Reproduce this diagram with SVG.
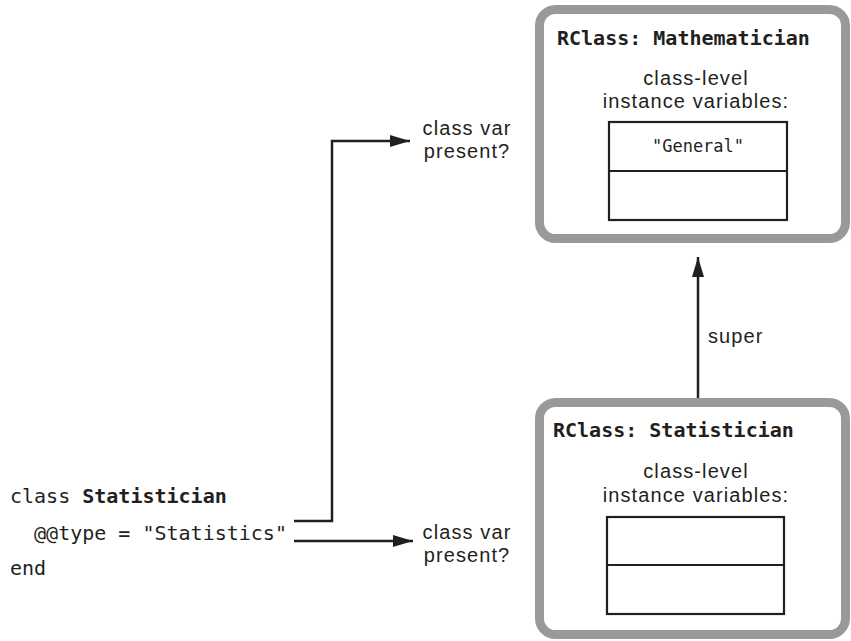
<svg xmlns="http://www.w3.org/2000/svg" width="851" height="641" viewBox="0 0 851 641">
<defs>
<style>
.box{fill:#fff;stroke:#999;stroke-width:9}
.tbl{fill:none;stroke:#231f20;stroke-width:2.2}
.title{font-family:"DejaVu Sans Mono","Liberation Mono",monospace;font-weight:bold;font-size:20px;fill:#231f20}
.mono{font-family:"DejaVu Sans Mono","Liberation Mono",monospace;font-size:20px;fill:#231f20}
.val{font-family:"DejaVu Sans Mono","Liberation Mono",monospace;font-size:17px;fill:#231f20}
.sans{font-family:"Liberation Sans","Open Sans",sans-serif;font-size:20px;letter-spacing:1.1px;fill:#231f20}
.line{fill:none;stroke:#231f20;stroke-width:2.5}
</style>
<marker id="arr" markerWidth="20" markerHeight="12" refX="20" refY="6" orient="auto" markerUnits="userSpaceOnUse">
<path d="M0,0 L20,6 L0,12 Z" fill="#231f20"/>
</marker>
</defs>
<rect width="851" height="641" fill="#fff"/>
<g id="mathematician">
<rect class="box" x="539.5" y="9.5" width="306" height="229" rx="16"/>
<text class="title" x="557" y="45">RClass: Mathematician</text>
<text class="sans" x="696" y="85" text-anchor="middle">class-level</text>
<text class="sans" x="696" y="108" text-anchor="middle">instance variables:</text>
<rect class="tbl" x="609" y="122" width="178" height="98"/>
<line class="tbl" x1="609" y1="171" x2="787" y2="171"/>
<text class="val" x="698" y="152" text-anchor="middle">"General"</text>
</g>
<g id="statistician">
<rect class="box" x="539.5" y="402.5" width="306" height="232" rx="16"/>
<text class="title" x="553" y="437">RClass: Statistician</text>
<text class="sans" x="696" y="478" text-anchor="middle">class-level</text>
<text class="sans" x="696" y="502" text-anchor="middle">instance variables:</text>
<rect class="tbl" x="607" y="517" width="177" height="97"/>
<line class="tbl" x1="607" y1="565" x2="784" y2="565"/>
</g>
<g id="code">
<text class="mono" x="10" y="503">class <tspan font-weight="bold">Statistician</tspan></text>
<text class="mono" x="10" y="540" xml:space="preserve">  @@type = "Statistics"</text>
<text class="mono" x="10" y="575">end</text>
</g>
<g id="q1">
<text class="sans" x="467" y="135" text-anchor="middle">class var</text>
<text class="sans" x="467" y="158" text-anchor="middle">present?</text>
</g>
<g id="q2">
<text class="sans" x="467" y="539" text-anchor="middle">class var</text>
<text class="sans" x="467" y="562" text-anchor="middle">present?</text>
</g>
<g id="connectors">
<polyline class="line" points="294,521 332,521 332,141 410,141" marker-end="url(#arr)"/>
<line class="line" x1="294" y1="541" x2="413" y2="541" marker-end="url(#arr)"/>
<line class="line" x1="698" y1="398" x2="698" y2="257" marker-end="url(#arr)"/>
<text class="sans" x="708" y="343">super</text>
</g>
</svg>
